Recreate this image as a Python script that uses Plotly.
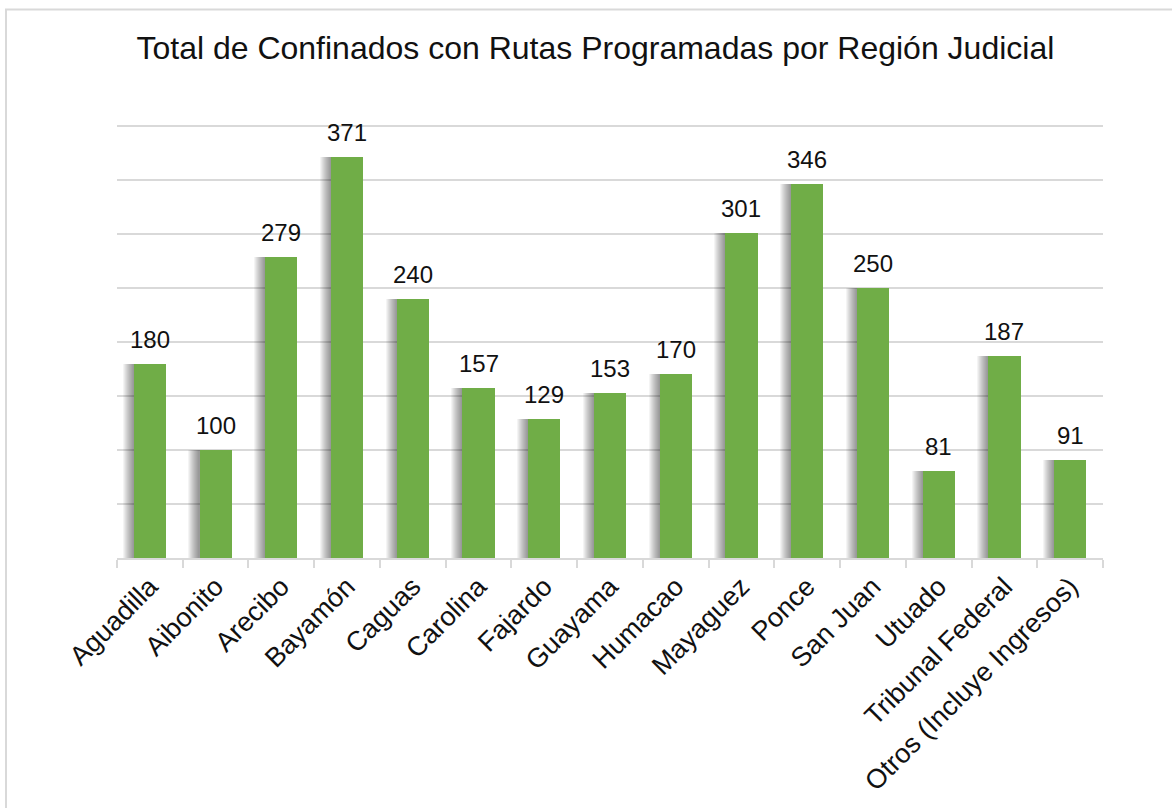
import plotly.graph_objects as go

regiones = ["Aguadilla", "Aibonito", "Arecibo", "Bayamón", "Caguas", "Carolina",
            "Fajardo", "Guayama", "Humacao", "Mayaguez", "Ponce", "San Juan",
            "Utuado", "Tribunal Federal", "Otros (Incluye Ingresos)"]
confinados = [180, 100, 279, 371, 240, 157, 129, 153, 170, 301, 346, 250, 81, 187, 91]

BAR_W = 0.49
GREEN = "#70AD47"
GRID = "#d9d9d9"
FONT = "Liberation Sans, Arial, sans-serif"

fig = go.Figure()

# soft drop shadow on the left of each bar, built from stacked translucent layers
px = 1 / 65.7
for k in range(1, 12):
    ext = k * 1.0 * px
    fig.add_trace(go.Bar(
        x=regiones, y=confinados,
        offset=-BAR_W / 2 - ext, width=ext + 0.1,
        marker=dict(color="rgba(0,0,0,0.045)", line=dict(width=0)),
        hoverinfo="skip", showlegend=False,
    ))

fig.add_trace(go.Bar(
    x=regiones, y=confinados,
    offset=-BAR_W / 2, width=BAR_W,
    marker=dict(color=GREEN, line=dict(width=0)),
    showlegend=False,
))

# value labels above the bars
annotations = [
    dict(x=r, y=v, text=str(v), showarrow=False, xref="x", yref="y",
         xanchor="center", yanchor="bottom", yshift=9,
         font=dict(size=24, color="#111111", family=FONT))
    for r, v in zip(regiones, confinados)
]

fig.update_layout(
    width=1172, height=808,
    margin=dict(l=117, r=69, t=125, b=250),
    paper_bgcolor="white", plot_bgcolor="white",
    barmode="overlay", bargap=0,
    font=dict(family=FONT, color="#111111"),
    title=dict(text="Total de Confinados con Rutas Programadas por Región Judicial",
               x=0.508, xref="container", xanchor="center",
               y=1 - 48 / 808, yref="container", yanchor="middle",
               font=dict(size=32, color="#111111", family=FONT)),
    xaxis=dict(type="category", tickson="boundaries", ticks="outside",
               ticklen=8, tickwidth=1.5, tickcolor=GRID,
               showline=True, linecolor=GRID, linewidth=2,
               tickangle=-45, tickfont=dict(size=27, color="#111111", family=FONT),
               showgrid=False, range=[-0.5, 14.5]),
    yaxis=dict(range=[0, 401], tickvals=list(range(0, 401, 50)),
               showticklabels=False,
               showgrid=True, gridcolor=GRID, gridwidth=1.5,
               zeroline=False, showline=False, ticks=""),
    annotations=annotations,
    shapes=[dict(type="rect", xref="paper", yref="paper",
                 x0=(6 - 117) / 986, x1=1.2, y0=-0.8, y1=(558 - 9.5) / 433,
                 line=dict(color=GRID, width=2), fillcolor="rgba(0,0,0,0)", layer="below")],
)

fig.write_html("out.html")
